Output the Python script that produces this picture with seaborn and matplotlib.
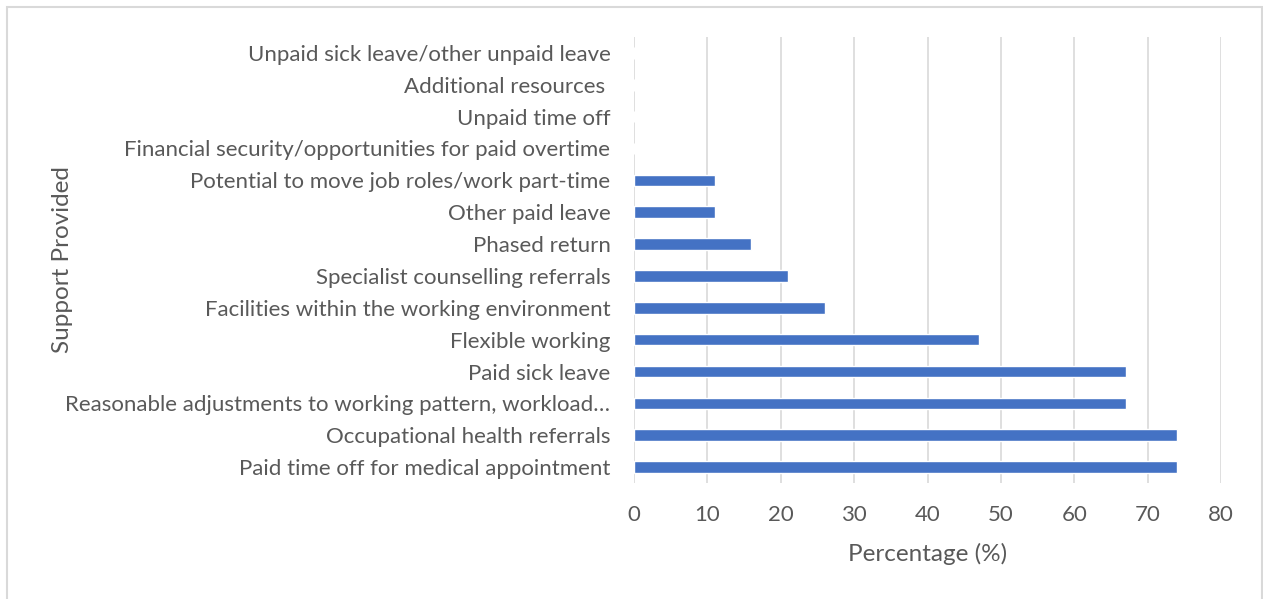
import matplotlib
matplotlib.use("Agg")
import matplotlib.pyplot as plt
import seaborn as sns
import pandas as pd
from matplotlib.patches import Rectangle

categories = [
    "Unpaid sick leave/other unpaid leave",
    "Additional resources ",
    "Unpaid time off",
    "Financial security/opportunities for paid overtime",
    "Potential to move job roles/work part-time",
    "Other paid leave",
    "Phased return",
    "Specialist counselling referrals",
    "Facilities within the working environment",
    "Flexible working",
    "Paid sick leave",
    "Reasonable adjustments to working pattern, workload\u2026",
    "Occupational health referrals",
    "Paid time off for medical appointment",
]
percentages = [0, 0, 0, 0, 11, 11, 16, 21, 26, 47, 67, 67, 74, 74]
x_ticks = [0, 10, 20, 30, 40, 50, 60, 70, 80]

df = pd.DataFrame({"Support": categories, "Percentage": percentages})

sns.set_theme(style="white")
plt.rcParams["font.family"] = ["Lato", "DejaVu Sans"]

text_color = "#595959"
grid_color = "#D9D9D9"

fig = plt.figure(figsize=(12.63, 5.99), dpi=100)
ax = fig.add_axes([634 / 1263, 1 - 483 / 599, (1221 - 634) / 1263, (483 - 37) / 599])

sns.barplot(data=df, x="Percentage", y="Support", orient="h",
            color="#4472C4", width=0.36, saturation=1, ax=ax, zorder=3)

ax.set_xlim(0, 80)
ax.set_xticks(x_ticks)
ax.set_xticklabels([str(t) for t in x_ticks])
ax.xaxis.grid(True, color=grid_color, linewidth=1.2, zorder=0)
ax.set_axisbelow(True)
for s in ax.spines.values():
    s.set_visible(False)

ax.tick_params(axis="x", length=0, pad=16, labelsize=16, labelcolor=text_color)
ax.tick_params(axis="y", length=0, pad=17, labelsize=16, labelcolor=text_color)

ax.set_xlabel("Percentage (%)", fontsize=17.5, color=text_color, labelpad=13)
ax.set_ylabel("Support Provided", fontsize=17.5, color=text_color)
ax.yaxis.set_label_coords((73 - 634) / (1221 - 634), 0.5)

# Chart-area border
fig.patches.append(Rectangle((7 / 1263, -0.1), (1262 - 7) / 1263, 1.1 - 7 / 599,
                             transform=fig.transFigure, fill=False,
                             edgecolor=grid_color, linewidth=1.5))

fig.savefig("out.png", dpi=100)
